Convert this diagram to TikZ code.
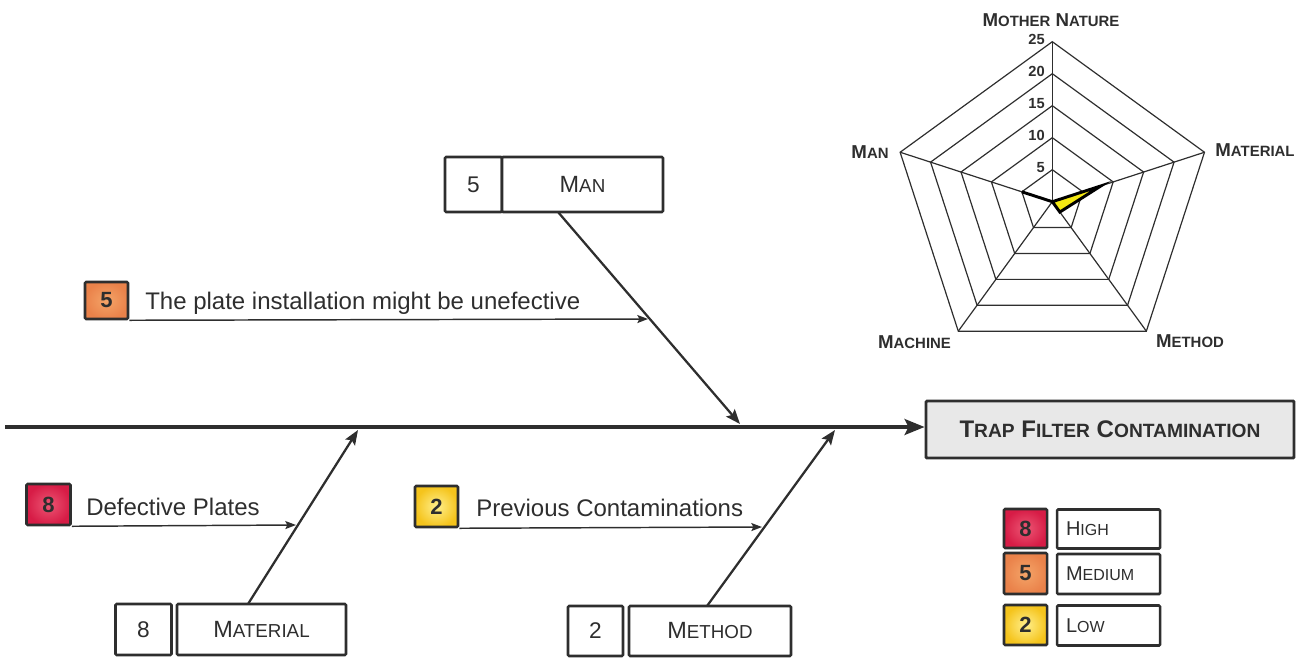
\documentclass[tikz,border=0pt]{standalone}
\usepackage{fontspec}
\setmainfont{Liberation Sans}
\usetikzlibrary{arrows.meta,calc}

\definecolor{ink}{HTML}{2E2E2E}
\definecolor{hi}{HTML}{D71C46}
\definecolor{hiL}{HTML}{EC5674}
\definecolor{med}{HTML}{EA824A}
\definecolor{medL}{HTML}{F4A468}
\definecolor{lo}{HTML}{F5C41C}
\definecolor{loL}{HTML}{FFEF8C}
\definecolor{effectfill}{HTML}{E8E8E8}
\definecolor{spike}{HTML}{F4E812}

% fake small capitals: the rest of a word at 80% of the current size
\makeatletter
\newcommand{\lsc}[1]{{\edef\lsc@sz{\the\dimexpr 0.8\dimexpr\f@size pt\relax\relax}\fontsize{\lsc@sz}{\lsc@sz}\selectfont #1}}
\makeatother

\tikzset{
  sz/.style 2 args={minimum width=#1*0.75pt, minimum height=#2*0.75pt},
  box/.style={draw=ink, line width=1.9pt, rounded corners=0.8pt, fill=white,
              inner sep=0pt, text=ink},
  bignum/.style={box, font=\fontsize{17}{17}\selectfont},
  causebox/.style={box, font=\fontsize{17.6}{17.6}\selectfont},
  rank/.style={box, font=\bfseries\fontsize{16.5}{16.5}\selectfont},
  hot/.style={rank, inner color=hiL, outer color=hi},
  warm/.style={rank, inner color=medL, outer color=med},
  mild/.style={rank, inner color=loL, outer color=lo},
  subtext/.style={inner sep=0pt, text=ink, font=\fontsize{18}{18}\selectfont},
  keylabel/.style={box, sz={103}{39}, text width=85*0.75pt, align=left,
                   inner xsep=9*0.75pt, font=\fontsize{15}{15}\selectfont},
  spine/.style={draw=ink, line width=2.3pt, -{Stealth[length=15pt,width=12pt,inset=3pt]}},
  bone/.style={draw=ink, line width=1.7pt, -{Stealth[length=11pt,width=8.5pt,inset=2pt]}},
  subarrow/.style={draw=ink, line width=1.1pt, -{Stealth[length=8pt,width=6pt,inset=1.5pt]}},
  webline/.style={draw=ink, line width=0.9pt},
  axislabel/.style={inner sep=0pt, text=ink, font=\bfseries\fontsize{14}{14}\selectfont},
  scalelabel/.style={inner sep=0pt, anchor=east, text=ink, font=\bfseries\fontsize{11}{11}\selectfont},
}

\begin{document}
\begin{tikzpicture}[x=0.75pt, y=-0.75pt]
\useasboundingbox (0,0) rectangle (1305,657);

% ---------- effect and spine ----------
\node[box, sz={368}{57}, line width=2.2pt, fill=effectfill,
      font=\bfseries\fontsize{18}{18}\selectfont] (effect) at (1110,429.5)
  {T\lsc{RAP} F\lsc{ILTER} C\lsc{ONTAMINATION}};
\coordinate (tail) at (5,427);
\draw[spine] (tail) -- (tail -| effect.west);

% ---------- Man ----------
\node[bignum, sz={57}{55}] (mannum) at (473.5,184.5) {5};
\node[causebox, sz={161}{55}] (man) at (582.5,184.5) {M\lsc{AN}};
\coordinate (manfoot) at (558,212);
\coordinate (manhit) at (740,424);
\draw[bone] (manfoot) -- (manhit);

\node[warm, sz={43}{37}] (c1) at (106.5,300.5) {5};
\node[subtext, anchor=base west] (t1) at (145,309) {The plate installation might be unefective};
\coordinate (c1hit) at (648,319);
\draw[subarrow] (c1.south east) -- (c1hit);

% ---------- Material ----------
\node[bignum, sz={56}{51}] (matnum) at (143.5,629.5) {8};
\node[causebox, sz={169}{51}] (mat) at (261.5,629.5) {M\lsc{ATERIAL}};
\coordinate (matfoot) at (248,604);
\coordinate (mathit) at (358,430);
\draw[bone] (matfoot) -- (mathit);

\node[hot, sz={44}{41}] (c2) at (48.5,504.5) {8};
\node[subtext, anchor=base west] (t2) at (86,515.5) {Defective Plates};
\coordinate (c2hit) at (296,525);
\draw[subarrow] (c2.south east) -- (c2hit);

% ---------- Method ----------
\node[bignum, sz={55}{50}] (metnum) at (595.5,631) {2};
\node[causebox, sz={162}{50}] (met) at (710,631) {M\lsc{ETHOD}};
\coordinate (metfoot) at (707,606);
\coordinate (methit) at (835,430);
\draw[bone] (metfoot) -- (methit);

\node[mild, sz={43}{41}] (c3) at (436.5,506.5) {2};
\node[subtext, anchor=base west] (t3) at (476,516.5) {Previous Contaminations};
\coordinate (c3hit) at (762,527);
\draw[subarrow] (c3.south east) -- (c3hit);

% ---------- key ----------
\node[hot, sz={43}{39}] (khigh) at (1025.5,528.5) {8};
\node[keylabel] (lhigh) at (1108.5,529) {H\lsc{IGH}};
\node[warm, sz={43}{41}] (kmed) at (1025.5,573.5) {5};
\node[keylabel, sz={103}{40}] (lmed) at (1108.5,574) {M\lsc{EDIUM}};
\node[mild, sz={43}{40}] (klow) at (1025.5,625) {2};
\node[keylabel, sz={103}{40}] (llow) at (1108.5,625.5) {L\lsc{OW}};

% ---------- radar of cause counts ----------
\begin{scope}[shift={(1052.3,201.7)}, yscale=-1]
  \foreach \k in {1,...,5}
    \draw[webline] (90:32*\k) -- (18:32*\k) -- (-54:32*\k) -- (-126:32*\k) -- (162:32*\k) -- cycle;
  \foreach \a in {90,18,-54,-126,162}
    \draw[webline] (0,0) -- (\a:160);
  % Mother Nature 0, Material 8, Method 2, Machine 0, Man 5 (1 unit = 6.4)
  \draw[draw=black, line width=2.2pt, fill=spike, line join=miter, miter limit=20]
    (90:0) -- (18:51.2) -- (-54:12.8) -- (-126:0) -- (162:32) -- cycle;
\end{scope}
\foreach \v [count=\k] in {5,10,15,20,25}
  \node[scalelabel] (s\v) at (1045,{201.7-32*\k-2}) {\v};

\node[axislabel] (axmn) at (1051,20) {M\lsc{OTHER} N\lsc{ATURE}};
\node[axislabel] (axman) at (870,152) {M\lsc{AN}};
\node[axislabel] (axmat) at (1255,150.5) {M\lsc{ATERIAL}};
\node[axislabel] (axmac) at (914.5,342) {M\lsc{ACHINE}};
\node[axislabel] (axmet) at (1190,341) {M\lsc{ETHOD}};
\end{tikzpicture}
\end{document}
